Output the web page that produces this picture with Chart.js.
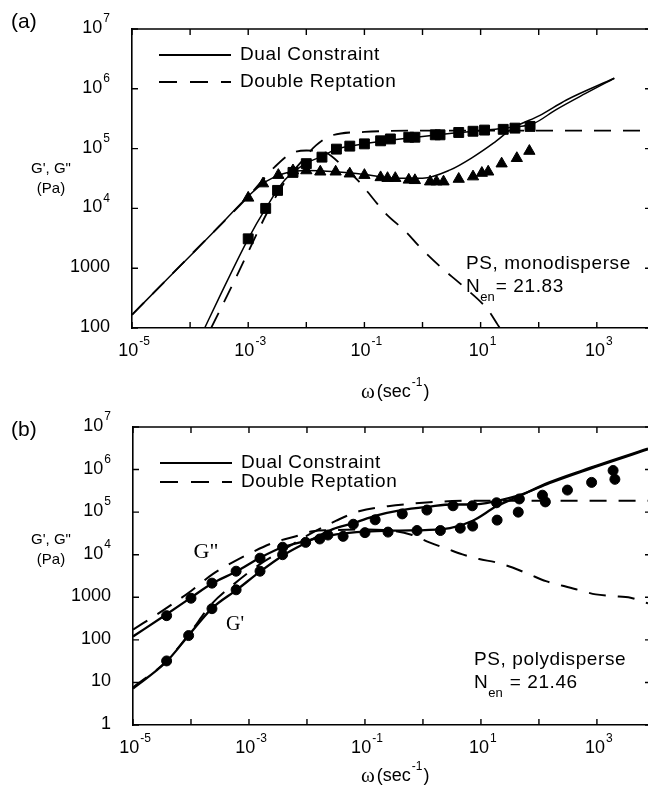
<!DOCTYPE html>
<html lang="en">
<head>
<meta charset="UTF-8">
<title>G', G'' vs frequency - Dual Constraint and Double Reptation</title>
<script src="https://cdn.jsdelivr.net/npm/chart.js"></script>
<style>
    body { margin: 0; background: #fff; }
    .wrapper { position: relative; width: 648px; height: 790px; overflow: hidden; }
    canvas { position: absolute; left: 0; }
    #chartA { top: 0; }
    #chartB { top: 395px; }
</style>
</head>
<body>
<div class="wrapper">
    <canvas id="chartA" width="648" height="410"></canvas>
    <canvas id="chartB" width="648" height="395"></canvas>
</div>
<script>
// ---- panel (a): monodisperse PS ----
const omegaSqA = [1e-3, 2e-3, 3.2e-3, 5.9e-3, 1e-2, 1.86e-2, 3.3e-2, 5.6e-2, 0.1, 0.19, 0.28, 0.58, 0.74, 1.66, 2.0, 4.2, 7.4, 11.7, 24.5, 39, 71];
const gPrimeSqA = [3100, 1.0e4, 2.0e4, 4.0e4, 5.6e4, 7.2e4, 9.8e4, 1.1e5, 1.2e5, 1.35e5, 1.45e5, 1.55e5, 1.55e5, 1.7e5, 1.7e5, 1.86e5, 1.95e5, 2.04e5, 2.1e5, 2.2e5, 2.35e5];
const omegaTriA = [1e-3, 1.8e-3, 3.3e-3, 5.9e-3, 1e-2, 1.74e-2, 3.2e-2, 5.6e-2, 0.1, 0.19, 0.25, 0.34, 0.58, 0.74, 1.35, 1.74, 2.3, 4.2, 7.4, 10.5, 13.5, 23, 42, 69];
const gDoubleTriA = [1.5e4, 2.6e4, 3.6e4, 4.3e4, 4.3e4, 4.1e4, 4.1e4, 3.8e4, 3.6e4, 3.3e4, 3.2e4, 3.2e4, 3.0e4, 2.95e4, 2.8e4, 2.8e4, 2.8e4, 3.1e4, 3.4e4, 3.9e4, 4.1e4, 5.6e4, 6.9e4, 9.1e4];

const dcOmegaGpA = [1.78e-4, 3e-4, 1e-3, 2e-3, 4.3e-3, 1e-2, 1.86e-2, 3.3e-2, 0.1, 0.32, 1, 3.2, 10, 32, 80, 200, 630, 2000];
const dcGpA = [100, 290, 3100, 1.0e4, 3.0e4, 5.7e4, 7.4e4, 9.8e4, 1.2e5, 1.4e5, 1.6e5, 1.8e5, 2.0e5, 2.25e5, 2.6e5, 4.5e5, 8.3e5, 1.5e6];
const dcOmegaGppA = [1e-5, 3.2e-5, 1e-4, 3.2e-4, 1e-3, 2e-3, 4e-3, 1e-2, 3.2e-2, 0.1, 0.32, 1, 3, 7.4, 16.6, 36, 105, 300, 2000];
const dcGppA = [166, 525, 1600, 5100, 1.6e4, 2.8e4, 3.8e4, 4.3e4, 4.1e4, 3.7e4, 3.2e4, 3.2e4, 4.4e4, 7.2e4, 1.23e5, 2.2e5, 3.6e5, 6.5e5, 1.5e6];

const drOmegaGpA = [2.3e-4, 5e-4, 1.26e-3, 2.04e-3, 4e-3, 8.9e-3, 1.45e-2, 2.75e-2, 0.1, 1, 10, 100, 7600];
const drGpA = [100, 460, 3000, 7900, 2.5e4, 6.6e4, 1.12e5, 1.66e5, 1.9e5, 2.0e5, 2.0e5, 2.0e5, 2.0e5];
const drOmegaGppA = [1e-5, 1e-4, 1e-3, 2.9e-3, 5.5e-3, 1e-2, 2.2e-2, 4.3e-2, 8.1e-2, 0.145, 0.23, 0.54, 0.87, 2.0, 5.0, 13.2, 19.5, 21.4];
const drGppA = [166, 1620, 1.58e4, 5.0e4, 8.3e4, 9.3e4, 8.5e4, 5.0e4, 2.8e4, 1.41e4, 8300, 3900, 2340, 1070, 500, 204, 115, 100];

// ---- panel (b): polydisperse PS ----
const omegaGpB = [3.8e-5, 9.1e-5, 2.3e-4, 6.0e-4, 1.55e-3, 3.8e-3, 9.5e-3, 2.3e-2, 6.3e-2, 0.15, 0.44, 1.17, 3.3, 7.1, 18.6, 46, 115, 2040];
const gPrimeB = [32, 126, 540, 1500, 4100, 1.0e4, 1.95e4, 2.9e4, 5.2e4, 6.6e4, 9.1e4, 1.12e5, 1.41e5, 1.41e5, 1.66e5, 2.04e5, 2.5e5, 5.9e5];
const omegaGppB = [3.8e-5, 1e-4, 2.3e-4, 6.0e-4, 1.55e-3, 3.8e-3, 1.66e-2, 4.2e-2, 0.10, 0.25, 0.79, 2.0, 4.4, 7.2, 19, 44, 129, 310, 810, 1900];
const gDoubleB = [370, 950, 2150, 4100, 8300, 1.5e4, 2.34e4, 2.7e4, 3.3e4, 3.4e4, 3.7e4, 3.7e4, 4.2e4, 4.7e4, 6.5e4, 1.0e5, 1.74e5, 3.3e5, 5.0e5, 9.5e5];

const dcOmegaGpB = [1e-5, 3.8e-5, 9.3e-5, 2.3e-4, 6.2e-4, 1.55e-3, 3.8e-3, 9.3e-3, 2.8e-2, 6.3e-2, 0.155, 0.4, 1.29, 3.2, 7.2, 18.2, 46, 151, 560, 7600];
const dcGpB = [7.2, 31, 132, 550, 1510, 4000, 9500, 1.86e4, 4.0e4, 5.5e4, 8.3e4, 1.1e5, 1.35e5, 1.51e5, 1.51e5, 1.82e5, 2.5e5, 4.8e5, 9.1e5, 3.0e6];
const dcOmegaGppB = [1e-5, 3.8e-5, 1e-4, 2.3e-4, 6.2e-4, 1.55e-3, 3.8e-3, 1e-2, 3.2e-2, 0.1, 0.4, 2.2, 7.2, 18.2, 46, 151, 560, 7600];
const dcGppB = [120, 400, 980, 2100, 4100, 8500, 1.5e4, 2.14e4, 3.0e4, 3.5e4, 3.7e4, 4.0e4, 6.3e4, 1.35e5, 2.4e5, 5.0e5, 9.5e5, 3.1e6];

const drOmegaGpB = [1e-5, 3.8e-5, 9.3e-5, 2.3e-4, 5.4e-4, 1.55e-3, 3.6e-3, 1e-2, 3.2e-2, 7.9e-2, 0.25, 1, 3.2, 10, 100, 7600];
const drGpB = [7.6, 32, 138, 710, 2000, 6000, 1.2e4, 2.8e4, 6.3e4, 1.05e5, 1.38e5, 1.66e5, 1.82e5, 1.86e5, 1.86e5, 1.86e5];
const drOmegaGppB = [1e-5, 3.2e-5, 1e-4, 2.4e-4, 5.2e-4, 1e-3, 2.5e-3, 6.9e-3, 1.26e-2, 3.2e-2, 0.1, 0.32, 0.63, 1.29, 2.7, 4.8, 9.3, 18.2, 35, 68, 132, 257, 490, 955, 1860, 3800, 7600];
const drGppB = [174, 480, 1410, 3550, 6600, 1.05e4, 1.86e4, 2.8e4, 3.55e4, 3.8e4, 3.9e4, 3.6e4, 2.95e4, 1.95e4, 1.35e4, 1.02e4, 7900, 6600, 5000, 3470, 2400, 1860, 1480, 1170, 1070, 980, 720];

// ---- ticks ----
const xTickVals = [1e-5, 1e-3, 1e-1, 10, 1000];
const xTickExps = ['-5', '-3', '-1', '1', '3'];
const yTickValsA = [100, 1000, 1e4, 1e5, 1e6, 1e7];
const yTickTextA = [['100', ''], ['1000', ''], ['10', '4'], ['10', '5'], ['10', '6'], ['10', '7']];
const yTickValsB = [1, 10, 100, 1000, 1e4, 1e5, 1e6, 1e7];
const yTickTextB = [['1', ''], ['10', ''], ['100', ''], ['1000', ''], ['10', '4'], ['10', '5'], ['10', '6'], ['10', '7']];

const SANS = '"Liberation Sans", Arial, Helvetica, sans-serif';
const SERIF = '"Liberation Serif", "Times New Roman", serif';

function pts(xs, ys) {
    return xs.map((x, i) => ({ x: x, y: ys[i] }));
}

function lineSet(label, xs, ys, dashed, width) {
    return {
        label: label,
        data: pts(xs, ys),
        showLine: true,
        borderColor: '#000',
        borderWidth: width,
        borderDash: dashed ? [17, 12] : [],
        pointRadius: 0,
        cubicInterpolationMode: 'monotone',
        order: 2
    };
}

function markerSet(label, xs, ys, style, radius) {
    return {
        label: label,
        data: pts(xs, ys),
        showLine: false,
        pointStyle: style,
        pointRadius: radius,
        pointBackgroundColor: '#000',
        pointBorderColor: '#000',
        pointBorderWidth: 1,
        order: 1
    };
}

function drawPow(ctx, base, exp, x, y, align, size) {
    const esize = Math.round(size * 0.66);
    ctx.font = size + 'px ' + SANS;
    const wb = ctx.measureText(base).width;
    ctx.font = esize + 'px ' + SANS;
    const we = exp ? ctx.measureText(exp).width + 1 : 0;
    const total = wb + we;
    const x0 = align === 'right' ? x - total : align === 'center' ? x - total / 2 : x;
    ctx.textAlign = 'left';
    ctx.textBaseline = 'middle';
    ctx.font = size + 'px ' + SANS;
    ctx.fillText(base, x0, y);
    if (exp) {
        ctx.font = esize + 'px ' + SANS;
        ctx.fillText(exp, x0 + wb + 1, y - size * 0.5);
    }
}

function decor(spec) {
    return {
        id: 'decor',
        afterDraw(chart) {
            const ctx = chart.ctx;
            const a = chart.chartArea;
            const xs = chart.scales.x, ys = chart.scales.y;
            ctx.save();
            ctx.fillStyle = '#000';
            ctx.strokeStyle = '#000';

            // frame top line
            ctx.lineWidth = 1.6;
            ctx.beginPath();
            ctx.moveTo(a.left, a.top);
            ctx.lineTo(a.right, a.top);
            ctx.stroke();

            // inward ticks at each decade
            ctx.lineWidth = 1.4;
            for (let e = -5; e <= 3; e++) {
                const px = xs.getPixelForValue(Math.pow(10, e));
                ctx.beginPath();
                ctx.moveTo(px, a.bottom); ctx.lineTo(px, a.bottom - 6);
                ctx.moveTo(px, a.top); ctx.lineTo(px, a.top + 6);
                ctx.stroke();
            }
            spec.yVals.forEach(v => {
                const py = ys.getPixelForValue(v);
                ctx.beginPath();
                ctx.moveTo(a.left, py); ctx.lineTo(a.left + 6, py);
                ctx.moveTo(a.right, py); ctx.lineTo(a.right - 3, py);
                ctx.stroke();
            });

            // tick labels
            xTickVals.forEach((v, i) => {
                drawPow(ctx, '10', xTickExps[i], xs.getPixelForValue(v) + 2, a.bottom + 23, 'center', 18);
            });
            spec.yVals.forEach((v, i) => {
                const t = spec.yText[i];
                drawPow(ctx, t[0], t[1], a.left - 22, ys.getPixelForValue(v) - 1, 'right', 18);
            });

            // axis titles
            ctx.textBaseline = 'middle';
            ctx.textAlign = 'center';
            ctx.font = '15px ' + SANS;
            ctx.fillText("G', G\"", 51, spec.yTitleY);
            ctx.fillText('(Pa)', 51, spec.yTitleY + 20);

            const tx = 361, ty = spec.xTitleY;
            ctx.textAlign = 'left';
            ctx.font = '21px ' + SERIF;
            ctx.fillText('\u03c9', tx, ty);
            let cx = tx + ctx.measureText('\u03c9').width + 2;
            ctx.font = '18px ' + SANS;
            ctx.fillText('(sec', cx, ty);
            cx += ctx.measureText('(sec').width + 1;
            ctx.font = '12px ' + SANS;
            ctx.fillText('-1', cx, ty - 9);
            cx += ctx.measureText('-1').width + 1;
            ctx.font = '18px ' + SANS;
            ctx.fillText(')', cx, ty);

            // panel label
            ctx.font = '21px ' + SANS;
            ctx.fillText(spec.panel, 11, spec.panelY);

            // legend
            ctx.lineWidth = spec.legendWidth;
            ctx.beginPath();
            ctx.moveTo(spec.legX, spec.legY1); ctx.lineTo(spec.legX + 72, spec.legY1);
            ctx.stroke();
            ctx.setLineDash([18, 13]);
            ctx.beginPath();
            ctx.moveTo(spec.legX, spec.legY2); ctx.lineTo(spec.legX + 72, spec.legY2);
            ctx.stroke();
            ctx.setLineDash([]);
            ctx.font = '19px ' + SANS;
            ctx.letterSpacing = '0.6px';
            ctx.fillText('Dual Constraint', spec.legX + 81, spec.legY1);
            ctx.fillText('Double Reptation', spec.legX + 81, spec.legY2);

            // sample note
            ctx.fillText(spec.note, spec.noteX, spec.noteY);
            ctx.fillText('N', spec.noteX, spec.noteY + 23);
            let nx = spec.noteX + ctx.measureText('N').width;
            ctx.font = '13px ' + SANS;
            ctx.letterSpacing = '0px';
            ctx.fillText('en', nx, spec.noteY + 33);
            nx += ctx.measureText('en').width + spec.eqGap;
            ctx.font = '19px ' + SANS;
            ctx.letterSpacing = '0.6px';
            ctx.fillText(spec.nen, nx, spec.noteY + 23);
            ctx.letterSpacing = '0px';

            // curve labels (panel b only)
            if (spec.curveLabels) {
                ctx.font = '22px ' + SERIF;
                ctx.textAlign = 'center';
                ctx.fillText('G"', 206, spec.curveLabels[0]);
                ctx.font = '20px ' + SERIF;
                ctx.fillText("G'", 235, spec.curveLabels[1]);
            }
            ctx.restore();
        }
    };
}

function makeChart(id, datasets, yMin, pad, spec) {
    return new Chart(document.getElementById(id), {
        type: 'scatter',
        data: { datasets: datasets },
        options: {
            responsive: false,
            animation: false,
            layout: { padding: pad, autoPadding: false },
            plugins: { legend: { display: false }, tooltip: { enabled: false } },
            scales: {
                x: {
                    type: 'logarithmic', min: 1e-5, max: 7600,
                    ticks: { display: false },
                    grid: { display: false, drawTicks: false },
                    border: { display: true, color: '#000', width: 1.6 }
                },
                y: {
                    type: 'logarithmic', min: yMin, max: 1e7,
                    ticks: { display: false },
                    grid: { display: false, drawTicks: false },
                    border: { display: true, color: '#000', width: 1.6 }
                }
            }
        },
        plugins: [decor(spec)]
    });
}

makeChart('chartA', [
    lineSet('Dual Constraint G\'', dcOmegaGpA, dcGpA, false, 1.5),
    lineSet('Dual Constraint G"', dcOmegaGppA, dcGppA, false, 1.5),
    lineSet('Double Reptation G\'', drOmegaGpA, drGpA, true, 1.8),
    lineSet('Double Reptation G"', drOmegaGppA, drGppA, true, 1.8),
    markerSet('G\' data', omegaSqA, gPrimeSqA, 'rect', 7),
    markerSet('G" data', omegaTriA, gDoubleTriA, 'triangle', 6.5)
], 100, { left: 132, top: 29, right: 0, bottom: 82 }, {
    panel: '(a)', panelY: 22,
    yVals: yTickValsA, yText: yTickTextA,
    yTitleY: 169, xTitleY: 392,
    legX: 159, legY1: 55, legY2: 82, legendWidth: 1.8,
    note: 'PS, monodisperse', noteX: 466, noteY: 264, nen: '= 21.83', eqGap: 1
});

makeChart('chartB', [
    lineSet('Dual Constraint G\'', dcOmegaGpB, dcGpB, false, 2.3),
    lineSet('Dual Constraint G"', dcOmegaGppB, dcGppB, false, 2.3),
    lineSet('Double Reptation G\'', drOmegaGpB, drGpB, true, 2),
    lineSet('Double Reptation G"', drOmegaGppB, drGppB, true, 2),
    markerSet('G\' data', omegaGpB, gPrimeB, 'circle', 5),
    markerSet('G" data', omegaGppB, gDoubleB, 'circle', 5)
], 1, { left: 133, top: 32, right: 0, bottom: 65 }, {
    panel: '(b)', panelY: 35,
    yVals: yTickValsB, yText: yTickTextB,
    yTitleY: 145, xTitleY: 381,
    legX: 160, legY1: 68, legY2: 87, legendWidth: 2.2,
    note: 'PS, polydisperse', noteX: 474, noteY: 265, nen: ' = 21.46', eqGap: 1,
    curveLabels: [157, 230]
});
</script>
</body>
</html>
